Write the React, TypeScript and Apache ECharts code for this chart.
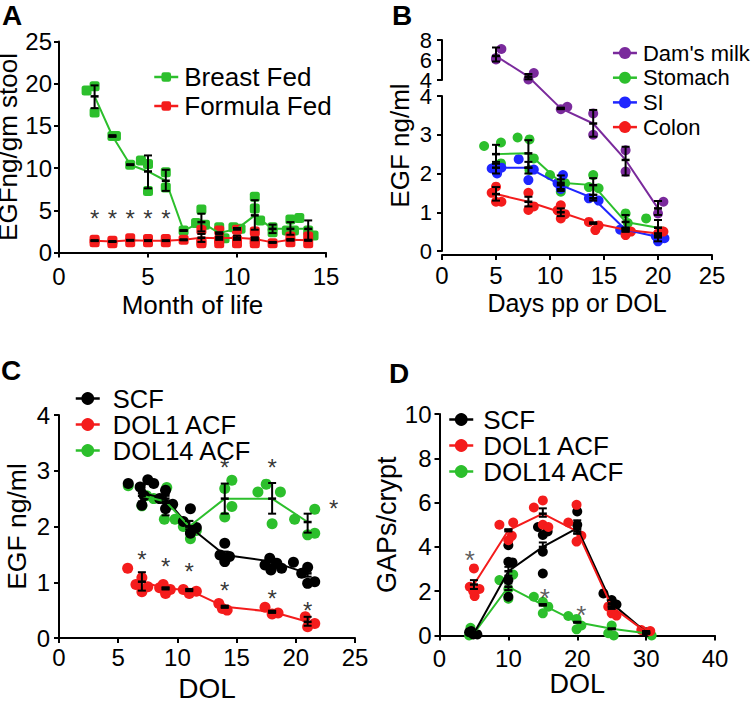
import React, { useEffect, useRef } from 'react';
import * as echarts from 'echarts';

const FONT = '"Liberation Sans", Arial, Helvetica, sans-serif';
const GREEN = '#2cbf2c';
const RED = '#f41c1c';
const BLUE = '#1f26ff';
const PURPLE = '#7a2a9c';
const BLACK = '#000000';

// ---------------- Panel A ----------------
const A_MONTHS = [2, 3, 4, 5, 6, 7, 8, 9, 10, 11, 12, 13, 14];
const A_BREAST_MEAN = [18.5, 13.8, 10.4, 9.6, 8.5, 2.6, 3.6, 2.3, 2.8, 4.4, 2.8, 2.8, 2.8];
const A_BREAST_LO = [17.1, 13.7, 10.35, 7.6, 7.3, 2.55, 2.5, 2.2, 2.7, 2.7, 2.3, 2.1, 1.5];
const A_BREAST_HI = [19.8, 13.9, 10.45, 11.5, 9.8, 2.65, 4.6, 2.4, 2.9, 6.2, 3.3, 3.6, 3.8];
const A_BREAST_POINTS = [
  [1.55, 19.2], [2, 19.7], [2, 16.6], [3, 13.8], [3.2, 13.8], [4, 10.4], [4.6, 10.9], [5, 10.5], [5, 7.3],
  [6, 9.5], [6, 7.7], [7, 2.6], [7.7, 3.5], [8, 5.1], [8.2, 3.3], [9, 3.0], [9.3, 1.7], [9.8, 3.0], [10.2, 2.8],
  [11, 6.6], [11, 5.2], [11.3, 3.8], [12, 3.0], [12, 2.4], [12.8, 2.6], [13, 3.9], [13.2, 2.6], [13.5, 4.1],
  [14, 2.6], [14.3, 2.0],
];
const A_FORMULA_MEAN = [1.4, 1.3, 1.45, 1.4, 1.4, 1.5, 1.75, 1.7, 1.75, 1.6, 1.2, 1.5, 1.45];
const A_FORMULA_LO = [1.35, 1.25, 1.4, 1.35, 1.35, 1.45, 1.25, 1.5, 1.5, 1.45, 1.15, 1.4, 1.4];
const A_FORMULA_HI = [1.45, 1.35, 1.5, 1.45, 1.45, 1.55, 2.2, 1.9, 2.0, 1.8, 1.25, 1.6, 1.5];
const A_FORMULA_POINTS = [
  [2, 1.5], [2, 1.2], [3, 1.4], [3, 1.1], [4, 1.7], [4, 1.2], [5, 1.6], [5, 1.2], [6, 1.6], [6, 1.2], [7, 1.5],
  [8, 2.7], [8, 1.3], [8, 1.1], [9, 2.6], [9, 1.5], [9, 1.1], [10, 2.7], [10, 1.5], [10, 1.1], [11, 2.5],
  [11, 1.4], [11, 1.1], [12, 1.1], [13, 1.9], [13, 1.2], [14, 1.9], [14, 1.1],
];
const A_STARS = [[2, 4.6], [3, 4.6], [4, 4.6], [5, 4.6], [6, 4.6]];

// ---------------- Panel B ----------------
const B_DAYS = [5, 8, 11, 14, 17, 20];
const B_MILK_MEAN = [6.4, 4.33, 3.68, 3.29, 2.35, 1.1];
const B_MILK_LO = [5.85, 4.07, 3.66, 2.95, 1.95, 0.93];
const B_MILK_HI = [7.25, 4.6, 3.7, 3.64, 2.69, 1.29];
const B_MILK_POINTS = [[5, 6.05], [5.5, 7.1], [5, 6.2], [8, 4.05], [8.5, 4.7], [11, 3.66], [11.6, 3.72], [14, 3.55], [14, 3.0], [17, 2.6], [17, 2.05], [20, 0.97], [20.5, 1.27]];
const B_STOMACH_MEAN = [2.5, 2.52, 1.76, 1.7, 0.75, 0.6];
const B_STOMACH_LO = [2.25, 2.15, 1.6, 1.45, 0.6, 0.4];
const B_STOMACH_HI = [2.74, 2.86, 1.95, 1.88, 0.93, 0.8];
const B_STOMACH_POINTS = [[3.9, 2.71], [5.46, 2.8], [5.46, 2.26], [5, 2.2], [7, 2.93], [8.1, 2.88], [8.5, 2.39], [8.1, 2.09], [10, 1.96], [11, 1.53], [11.4, 1.75], [14, 1.96], [14.5, 1.62], [13.6, 1.65], [17, 0.97], [17.2, 0.72], [18.9, 0.84], [20.4, 0.5], [20, 0.28]];
const B_SI_MEAN = [2.15, 2.15, 1.7, 1.36, 0.55, 0.36];
const B_SI_LO = [2.0, 2.0, 1.55, 1.3, 0.5, 0.25];
const B_SI_HI = [2.3, 2.3, 1.85, 1.45, 0.6, 0.45];
const B_SI_POINTS = [[4.6, 2.13], [5.1, 2.0], [5.5, 2.15], [7.1, 2.37], [8, 1.83], [8.5, 2.1], [11.2, 1.96], [10.7, 1.75], [11, 1.6], [13.6, 1.36], [14.5, 1.3], [16.5, 0.55], [17.2, 0.5], [19.8, 0.38], [20.6, 0.33], [20, 0.25]];
const B_COLON_MEAN = [1.47, 1.27, 1.0, 0.72, 0.55, 0.45];
const B_COLON_LO = [1.3, 1.15, 0.9, 0.7, 0.5, 0.35];
const B_COLON_HI = [1.65, 1.4, 1.1, 0.74, 0.58, 0.6];
const B_COLON_POINTS = [[4.6, 1.5], [5, 1.66], [5, 1.27], [5.5, 1.27], [8, 1.5], [8, 1.06], [8.5, 1.15], [10.7, 1.05], [11, 1.18], [11, 0.84], [11.4, 0.95], [13.6, 0.75], [14.2, 0.54], [14.5, 0.66], [17, 0.41], [17.5, 0.5], [20, 0.45], [20.5, 0.5]];

// ---------------- Panel C ----------------
const C_DAYS = [7, 9, 11, 14, 18, 21];
const C_SCF_MEAN = [2.6, 2.5, 2.0, 1.49, 1.37, 1.16];
const C_SCF_LO = [2.4, 2.42, 1.95, 1.43, 1.32, 1.1];
const C_SCF_HI = [2.75, 2.58, 2.1, 1.55, 1.42, 1.22];
const C_SCF_POINTS = [[5.85, 2.77], [6.85, 2.71], [7.5, 2.84], [8, 2.77], [7, 2.38], [7.2, 2.55], [9, 2.65], [9, 2.32], [9.6, 2.4], [8.5, 2.5], [11.1, 2.32], [10.5, 2.09], [11.1, 1.88], [11.6, 1.98], [14, 1.7], [13.6, 1.49], [14.4, 1.46], [14, 1.37], [17.8, 1.43], [17.4, 1.31], [18.4, 1.34], [18.8, 1.25], [17.9, 1.22], [19.8, 1.36], [21, 1.27], [20.5, 1.16], [21, 0.98], [21.6, 1.01]];
const C_DOL1_MEAN = [1.01, 0.89, 0.86, 0.56, 0.47, 0.29];
const C_DOL1_LO = [0.85, 0.87, 0.84, 0.54, 0.45, 0.22];
const C_DOL1_HI = [1.18, 0.91, 0.88, 0.58, 0.49, 0.38];
const C_DOL1_POINTS = [[5.8, 1.25], [7, 1.08], [7, 0.83], [6.5, 0.96], [7.5, 0.92], [8.8, 0.96], [9, 0.8], [9.4, 0.87], [8.5, 0.9], [10.5, 0.87], [11, 0.8], [11.6, 0.84], [13.5, 0.62], [14.2, 0.5], [13.8, 0.53], [17.4, 0.55], [18, 0.43], [18.5, 0.45], [20.8, 0.38], [21.6, 0.26], [21, 0.2]];
const C_DOL14_MEAN = [2.55, 2.45, 2.0, 2.5, 2.5, 2.08];
const C_DOL14_LO = [2.45, 2.2, 1.9, 2.23, 2.23, 1.89];
const C_DOL14_HI = [2.65, 2.55, 2.1, 2.77, 2.78, 2.23];
const C_DOL14_POINTS = [[5.85, 2.73], [7, 2.37], [7.4, 2.55], [8, 2.5], [9.1, 2.7], [8.9, 2.13], [9.8, 2.13], [10.5, 2.0], [11.1, 1.78], [11.6, 1.93], [14, 2.68], [14.6, 2.83], [14, 2.17], [14.6, 2.36], [16.8, 2.62], [17.5, 2.76], [18.7, 2.62], [18, 2.05], [19.9, 2.13], [21.6, 2.31], [21, 1.85], [21.6, 1.88]];
const C_STARS = [[14, 3.15], [18, 3.15], [23.2, 2.41], [7, 1.49], [9, 1.37], [11, 1.28], [14, 0.95], [18, 0.8], [21, 0.59]];

// ---------------- Panel D ----------------
const D_DAYS = [5, 10, 15, 20, 25, 30];
const D_SCF_MEAN = [0.1, 2.9, 4.0, 4.85, 1.45, 0.15];
const D_SCF_LO = [0.05, 2.7, 3.8, 4.6, 1.3, 0.1];
const D_SCF_HI = [0.15, 3.1, 4.2, 5.2, 1.6, 0.2];
const D_SCF_POINTS = [[4.3, 0.15], [4.9, 0.05], [5.5, 0.05], [4.6, 0.2], [10, 4.08], [10, 3.33], [10.6, 3.3], [10, 2.5], [10, 1.75], [14.3, 4.9], [15, 4.54], [15.7, 4.7], [15, 3.78], [15, 2.8], [20, 5.6], [20, 5.0], [23.8, 1.9], [25, 1.6], [25.7, 1.4], [30, 0.15]];
const D_DOL1_MEAN = [2.3, 4.75, 5.5, 4.7, 1.3, 0.15];
const D_DOL1_LO = [2.1, 4.7, 5.36, 4.6, 1.2, 0.1];
const D_DOL1_HI = [2.5, 4.8, 5.74, 4.8, 1.4, 0.2];
const D_DOL1_POINTS = [[4.4, 2.2], [5, 3.03], [5.1, 1.78], [5.8, 2.1], [4.9, 2.0], [8.7, 5.0], [10.7, 5.1], [10.5, 4.5], [10, 4.3], [13.7, 5.78], [15, 6.1], [15, 5.0], [15.8, 4.9], [18.7, 5.1], [19.9, 5.9], [19.9, 4.24], [20.6, 4.5], [24.5, 1.3], [25, 1.0], [25.7, 0.9], [29.3, 0.25], [30.6, 0.2]];
const D_DOL14_MEAN = [0.1, 2.2, 1.38, 0.6, 0.3, 0.1];
const D_DOL14_LO = [0.05, 2.05, 1.35, 0.58, 0.28, 0.08];
const D_DOL14_HI = [0.15, 2.35, 1.42, 0.62, 0.32, 0.12];
const D_DOL14_POINTS = [[4.5, 0.35], [4.3, 0.0], [8.7, 2.5], [10.7, 2.75], [10, 2.1], [10, 1.66], [13.7, 1.75], [15, 1.52], [15.8, 1.3], [15, 1.0], [18.7, 0.88], [19.9, 0.75], [19.9, 0.28], [20.6, 0.45], [25, 0.45], [24.5, 0.1], [25.3, 0.0], [30.8, 0.0]];
const D_STARS = [[4.4, 3.7], [15.3, 1.98], [20.6, 1.18]];

// ---- Panel B broken-axis mapping (layout) ----
const B_LOWER_PX = 38.75; // px per unit, lower segment 0-4
const B_UPPER_PX = 10; // px per unit, upper segment 4-8
const B_GAP_PX = 16; // gap between segments
const bT = (v: number) => (v <= 4 ? v : 4 + (B_GAP_PX + (v - 4) * B_UPPER_PX) / B_LOWER_PX);
const B_TOP_T = bT(8);

const ident = (v: number) => v;

function pointsSeries(name: string, pts: number[][], color: string, ax: number, symbol: string, size: number, tf = ident) {
  return {
    type: 'scatter', name, xAxisIndex: ax, yAxisIndex: ax, silent: true,
    data: pts.map((p) => [p[0], tf(p[1])]), symbol, symbolSize: size,
    itemStyle: { color, opacity: 1 }, z: 2,
  };
}
function lineSeries(name: string, xs: number[], means: number[], color: string, ax: number, symbol: string, tf = ident) {
  return {
    type: 'line', name, xAxisIndex: ax, yAxisIndex: ax, silent: true,
    data: xs.map((x, i) => [x, tf(means[i])]), symbol, showSymbol: false,
    lineStyle: { color, width: 2 }, itemStyle: { color }, z: 3,
  };
}
function errSeries(name: string, xs: number[], mean: number[], lo: number[], hi: number[], ax: number, tf = ident) {
  return {
    type: 'custom', name, xAxisIndex: ax, yAxisIndex: ax, silent: true, z: 5,
    data: xs.map((x, i) => [x, tf(mean[i]), tf(lo[i]), tf(hi[i])]),
    renderItem: (params: any, api: any) => {
      const x = api.value(0);
      const m = api.coord([x, api.value(1)]);
      const l = api.coord([x, api.value(2)]);
      const h = api.coord([x, api.value(3)]);
      const st = { stroke: '#000', lineWidth: 2 };
      const c = 4;
      return {
        type: 'group',
        children: [
          { type: 'line', shape: { x1: m[0], y1: l[1], x2: m[0], y2: h[1] }, style: st },
          { type: 'line', shape: { x1: m[0] - c, y1: l[1], x2: m[0] + c, y2: l[1] }, style: st },
          { type: 'line', shape: { x1: m[0] - c, y1: h[1], x2: m[0] + c, y2: h[1] }, style: st },
          { type: 'line', shape: { x1: m[0] - c, y1: m[1], x2: m[0] + c, y2: m[1] }, style: { stroke: '#000', lineWidth: 2.5 } },
        ],
      };
    },
  };
}
function starSeries(name: string, pts: number[][], ax: number, size: number, color: string, weight: any) {
  return {
    type: 'scatter', name, xAxisIndex: ax, yAxisIndex: ax, silent: true, z: 6,
    data: pts, symbolSize: 1, itemStyle: { color: 'rgba(0,0,0,0)' },
    label: { show: true, position: 'inside', formatter: '*', fontSize: size, color, fontFamily: FONT, fontWeight: weight, offset: [0, Math.round(size * 0.22)] },
  };
}

const axisBase = {
  axisLine: { show: true, onZero: false, lineStyle: { color: '#000', width: 2 } },
  axisTick: { show: true, inside: false, length: 5, lineStyle: { color: '#000', width: 2 } },
  splitLine: { show: false },
};
const TICK_FS = 24;
function xAx(grid: number, min: number, max: number, interval: number, name: string, margin: number, nameGap: number, nameSize: number, offset = 0, nameLH?: number) {
  return {
    ...axisBase, type: 'value', gridIndex: grid, min, max, interval, offset,
    axisLabel: { fontSize: TICK_FS, color: '#000', fontFamily: FONT, margin, showMinLabel: true, showMaxLabel: true, hideOverlap: false },
    name, nameLocation: 'middle', nameGap,
    nameTextStyle: { fontSize: nameSize, color: '#000', fontFamily: FONT, ...(nameLH ? { lineHeight: nameLH } : {}) },
  };
}
function yAx(grid: number, min: number, max: number, interval: number, name: string, margin: number, nameGap: number, nameSize: number, fs = TICK_FS, lh?: number, formatter?: any) {
  return {
    ...axisBase, type: 'value', gridIndex: grid, min, max, interval,
    axisLabel: { fontSize: fs, color: '#000', fontFamily: FONT, margin, showMinLabel: true, showMaxLabel: true, hideOverlap: false, ...(lh ? { lineHeight: lh } : {}), ...(formatter ? { formatter } : {}) },
    name, nameLocation: 'middle', nameGap, nameTextStyle: { fontSize: nameSize, color: '#000', fontFamily: FONT },
  };
}
function legendOf(names: string[], left: number, top: number, size: number, gap: number, itemH: number, pad: number, lh?: number) {
  return {
    show: true, data: names, orient: 'vertical', left, top, padding: 0, selectedMode: false,
    itemWidth: 24, itemHeight: itemH, itemGap: gap,
    lineStyle: { width: 2.5 },
    textStyle: { fontSize: size, color: '#000', fontFamily: FONT, padding: [0, 0, 0, pad], ...(lh ? { lineHeight: lh } : {}) },
  };
}
const hiddenAx = (grid: number, min: number, max: number) => ({ type: 'value', gridIndex: grid, min, max, show: false, splitLine: { show: false } });

export default function App() {
  const ref = useRef<HTMLDivElement>(null);
  useEffect(() => {
    if (!ref.current) return;
    const chart = echarts.init(ref.current, undefined, { renderer: 'svg' });
    const grid = (left: number, top: number, width: number, height: number) => ({ left, top, width, height, containLabel: false, outerBoundsMode: 'none' });
    // upper segment of panel B's broken axis: ends (4, 8) on the main axis, middle (6) on an overlaid label-only axis
    const upperEnds = (v: number) => (v === 4 || v === 8 ? String(v) : '');
    const upperMid = (v: number) => (v === 6 ? String(v) : '');
    const option: any = {
      animation: false,
      textStyle: { fontFamily: FONT },
      grid: [
        grid(59, 41.5, 267, 211),
        grid(442, 40, 270, 211),
        grid(442, 96, 270, 155),
        grid(442, 40, 270, 40),
        grid(59, 415, 296, 223),
        grid(439.5, 414, 275.5, 221.5),
      ],
      xAxis: [
        xAx(0, 0, 15, 5, 'Month of life', 12, 39, 26),
        hiddenAx(1, 0, 25),
        xAx(2, 0, 25, 5, 'Days pp or DOL', 8, 35, 25, 4),
        hiddenAx(3, 0, 25),
        xAx(4, 0, 25, 5, 'DOL', 7, 40.5, 28, 0, 20),
        xAx(5, 0, 40, 10, 'DOL', 10.5, 38, 27, 0, 20),
      ],
      yAxis: [
        yAx(0, 0, 25, 5, 'EGFng/gm stool', 7, 31, 26),
        { type: 'value', gridIndex: 1, min: 0, max: B_TOP_T, axisLine: { show: false }, axisTick: { show: false }, axisLabel: { show: false }, splitLine: { show: false }, name: 'EGF ng/ml', nameLocation: 'middle', nameGap: 29.5, nameTextStyle: { fontSize: 26, color: '#000', fontFamily: FONT } },
        yAx(2, 0, 4, 1, '', 10, 30, 25, 22, 14),
        yAx(3, 4, 8, 2, '', 10, 30, 25, 22, 14, upperEnds),
        yAx(4, 0, 4, 1, 'EGF ng/ml', 9, 28.5, 26.5),
        yAx(5, 0, 10, 2, 'GAPs/crypt', 8, 25, 27),
        {
          type: 'value', gridIndex: 3, position: 'left', min: 4, max: 8, interval: 2,
          axisLine: { show: false }, axisTick: { show: false }, splitLine: { show: false },
          axisLabel: { fontSize: 22, lineHeight: 14, color: '#000', fontFamily: FONT, margin: 10, showMinLabel: true, showMaxLabel: true, hideOverlap: false, formatter: upperMid },
        },
      ],
      legend: [
        legendOf(['Breast Fed', 'Formula Fed'], 153, 64, 26, 3, 12, 1),
        legendOf(["Dam's milk", 'Stomach', 'SI', 'Colon'], 611.7, 42, 22, 2.7, 15, 1),
        legendOf(['SCF', 'DOL1 ACF', 'DOL14 ACF'], 74.5, 385.5, 25.5, 0, 16, 8, 25),
        legendOf(['SCF', 'DOL1 ACF', 'DOL14 ACF'], 448, 406.5, 26, 0, 16, 5, 26),
      ],
      graphic: [
        { type: 'text', left: 2, top: 1, style: { text: 'A', font: `bold 28px ${FONT}`, fill: '#000' } },
        { type: 'text', left: 392, top: 1, style: { text: 'B', font: `bold 28px ${FONT}`, fill: '#000' } },
        { type: 'text', left: 1, top: 356, style: { text: 'C', font: `bold 28px ${FONT}`, fill: '#000' } },
        { type: 'text', left: 389, top: 359, style: { text: 'D', font: `bold 28px ${FONT}`, fill: '#000' } },
      ],
      series: [
        // A
        pointsSeries('Breast Fed pts', A_BREAST_POINTS, GREEN, 0, 'roundRect', 10),
        lineSeries('Breast Fed', A_MONTHS, A_BREAST_MEAN, GREEN, 0, 'roundRect'),
        pointsSeries('Formula Fed pts', A_FORMULA_POINTS, RED, 0, 'roundRect', 10),
        lineSeries('Formula Fed', A_MONTHS, A_FORMULA_MEAN, RED, 0, 'roundRect'),
        errSeries('Breast Fed err', A_MONTHS, A_BREAST_MEAN, A_BREAST_LO, A_BREAST_HI, 0),
        errSeries('Formula Fed err', A_MONTHS, A_FORMULA_MEAN, A_FORMULA_LO, A_FORMULA_HI, 0),
        starSeries('A stars', A_STARS, 0, 24, '#000', 'normal'),
        // B
        pointsSeries("Dam's milk pts", B_MILK_POINTS, PURPLE, 1, 'circle', 10, bT),
        lineSeries("Dam's milk", B_DAYS, B_MILK_MEAN, PURPLE, 1, 'circle', bT),
        pointsSeries('Stomach pts', B_STOMACH_POINTS, GREEN, 1, 'circle', 10, bT),
        lineSeries('Stomach', B_DAYS, B_STOMACH_MEAN, GREEN, 1, 'circle', bT),
        pointsSeries('SI pts', B_SI_POINTS, BLUE, 1, 'circle', 10, bT),
        lineSeries('SI', B_DAYS, B_SI_MEAN, BLUE, 1, 'circle', bT),
        pointsSeries('Colon pts', B_COLON_POINTS, RED, 1, 'circle', 10, bT),
        lineSeries('Colon', B_DAYS, B_COLON_MEAN, RED, 1, 'circle', bT),
        errSeries("Dam's milk err", B_DAYS, B_MILK_MEAN, B_MILK_LO, B_MILK_HI, 1, bT),
        errSeries('Stomach err', B_DAYS, B_STOMACH_MEAN, B_STOMACH_LO, B_STOMACH_HI, 1, bT),
        errSeries('SI err', B_DAYS, B_SI_MEAN, B_SI_LO, B_SI_HI, 1, bT),
        errSeries('Colon err', B_DAYS, B_COLON_MEAN, B_COLON_LO, B_COLON_HI, 1, bT),
        // C
        lineSeries('SCF', C_DAYS, C_SCF_MEAN, BLACK, 4, 'circle'),
        lineSeries('DOL1 ACF', C_DAYS, C_DOL1_MEAN, RED, 4, 'circle'),
        lineSeries('DOL14 ACF', C_DAYS, C_DOL14_MEAN, GREEN, 4, 'circle'),
        pointsSeries('C DOL14 pts', C_DOL14_POINTS, GREEN, 4, 'circle', 11),
        pointsSeries('C DOL1 pts', C_DOL1_POINTS, RED, 4, 'circle', 11),
        pointsSeries('C SCF pts', C_SCF_POINTS, BLACK, 4, 'circle', 11),
        errSeries('C DOL14 err', C_DAYS, C_DOL14_MEAN, C_DOL14_LO, C_DOL14_HI, 4),
        errSeries('C DOL1 err', C_DAYS, C_DOL1_MEAN, C_DOL1_LO, C_DOL1_HI, 4),
        errSeries('C SCF err', C_DAYS, C_SCF_MEAN, C_SCF_LO, C_SCF_HI, 4),
        starSeries('C stars', C_STARS, 4, 24, '#000', 'normal'),
        // D
        pointsSeries('D DOL14 pts', D_DOL14_POINTS, GREEN, 5, 'circle', 10),
        lineSeries('D DOL14', D_DAYS, D_DOL14_MEAN, GREEN, 5, 'circle'),
        pointsSeries('D SCF pts', D_SCF_POINTS, BLACK, 5, 'circle', 10),
        lineSeries('D SCF', D_DAYS, D_SCF_MEAN, BLACK, 5, 'circle'),
        pointsSeries('D DOL1 pts', D_DOL1_POINTS, RED, 5, 'circle', 10),
        lineSeries('D DOL1', D_DAYS, D_DOL1_MEAN, RED, 5, 'circle'),
        errSeries('D DOL14 err', D_DAYS, D_DOL14_MEAN, D_DOL14_LO, D_DOL14_HI, 5),
        errSeries('D SCF err', D_DAYS, D_SCF_MEAN, D_SCF_LO, D_SCF_HI, 5),
        errSeries('D DOL1 err', D_DAYS, D_DOL1_MEAN, D_DOL1_LO, D_DOL1_HI, 5),
        starSeries('D stars', D_STARS, 5, 26, '#333', 'lighter'),
      ],
    };
    chart.setOption(option);
    return () => chart.dispose();
  }, []);
  return <div ref={ref} style={{ position: 'fixed', left: 0, top: 0, width: 751, height: 701, background: '#fff' }} />;
}
